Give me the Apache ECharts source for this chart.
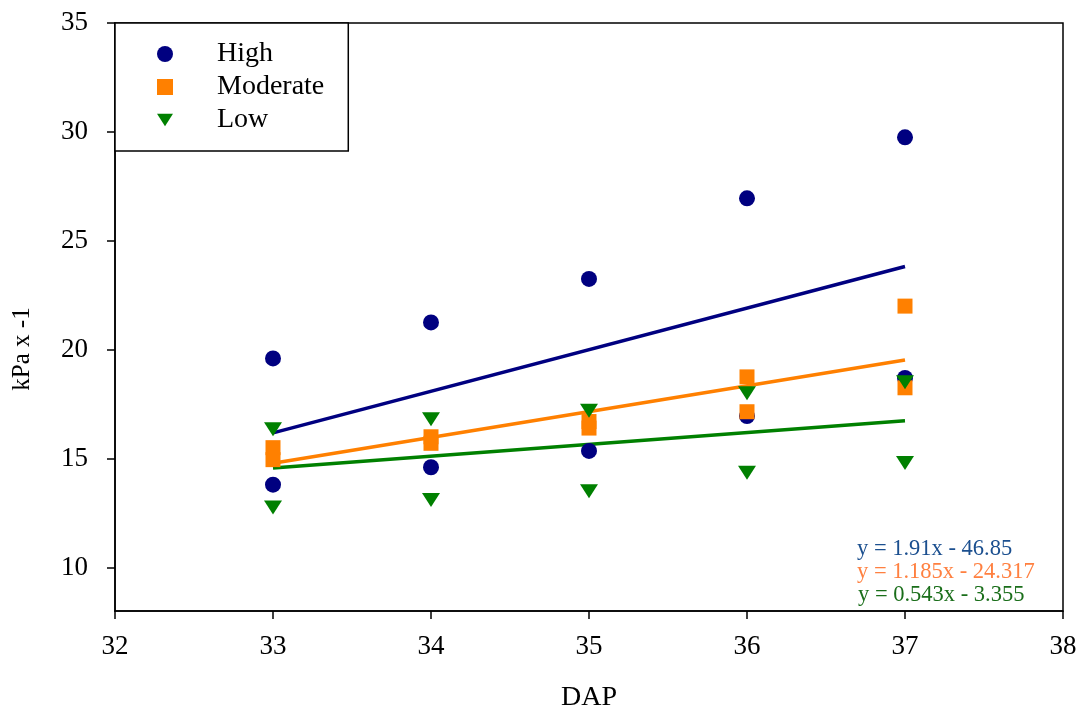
<!DOCTYPE html>
<html>
<head>
<meta charset="utf-8">
<script src="https://cdn.jsdelivr.net/npm/echarts@6/dist/echarts.min.js"></script>
<style>html,body{margin:0;padding:0;background:#fff}#c{width:1087px;height:715px}</style>
</head>
<body>
<div id="c"></div>
<script>
// ---- data ----
const xTicks = [32, 33, 34, 35, 36, 37, 38];
const yTicks = [10, 15, 20, 25, 30, 35];
const highPts = [[33, 19.6], [33, 13.8], [34, 21.25], [34, 14.6], [35, 23.25], [35, 15.35], [36, 26.95], [36, 16.95], [37, 29.75], [37, 18.7]];
const moderatePts = [[33, 15.5], [33, 14.95], [34, 16.0], [34, 15.7], [35, 16.7], [35, 16.4], [36, 18.75], [36, 17.15], [37, 22.0], [37, 18.25]];
const lowPts = [[33, 16.35], [33, 12.75], [34, 16.8], [34, 13.1], [35, 17.2], [35, 13.5], [36, 18.0], [36, 14.35], [37, 18.5], [37, 14.8]];
// regression coefficients shown on chart: [slope, intercept]
const highFit = [1.91, -46.85];
const moderateFit = [1.185, -24.317];
const lowFit = [0.543, -3.355];
const fitRange = [33, 37];
const equations = ['y = 1.91x - 46.85', 'y = 1.185x - 24.317', 'y = 0.543x - 3.355'];

const FONT = '"Liberation Serif", "Times New Roman", serif';
const fitLine = c => fitRange.map(x => [x, +(c[0] * x + c[1]).toFixed(3)]);
const triPath = 'path://M0,0L18,0L9,14Z';

const chart = echarts.init(document.getElementById('c'), null, {renderer: 'canvas'});
chart.setOption({
  backgroundColor: '#fff',
  animation: false,
  grid: {left: 115, right: 24, top: 23, bottom: 104, outerBoundsMode: 'none', containLabel: false,
         show: true, borderColor: '#000', borderWidth: 1.5, backgroundColor: 'transparent'},
  legend: {
    data: ['High', 'Moderate', 'Low'],
    orient: 'vertical', left: 115, top: 23,
    padding: [17, 24, 17, 42],
    itemWidth: 16, itemHeight: 16, itemGap: 5,
    borderColor: '#000', borderWidth: 1.5, backgroundColor: '#fff',
    textStyle: {fontFamily: FONT, fontSize: 28, color: '#000', padding: [0, 0, 0, 39]},
    selectedMode: false
  },
  xAxis: {
    type: 'value', min: 32, max: 38, interval: 1,
    name: 'DAP', nameLocation: 'middle', nameGap: 73,
    nameTextStyle: {fontFamily: FONT, fontSize: 28, color: '#000'},
    axisLine: {show: true, lineStyle: {color: '#000', width: 1.5}},
    axisTick: {show: true, length: 8, lineStyle: {color: '#000', width: 1.5}},
    axisLabel: {fontFamily: FONT, fontSize: 27, color: '#000', margin: 22},
    splitLine: {show: false}
  },
  yAxis: {
    type: 'value', min: 8, max: 35,
    axisLine: {show: true, onZero: false, lineStyle: {color: '#000', width: 1.5}},
    axisTick: {show: true, length: 8, customValues: yTicks, lineStyle: {color: '#000', width: 1.5}},
    axisLabel: {fontFamily: FONT, fontSize: 27, color: '#000', margin: 27, customValues: yTicks},
    splitLine: {show: false}
  },
  graphic: [
    {type: 'text', x: 22, y: 349, rotation: Math.PI / 2,
     style: {text: 'kPa x -1', font: '25px ' + FONT, fill: '#000', align: 'center', verticalAlign: 'middle'}},
    {type: 'text', left: 857, top: 538, style: {text: equations[0], font: '22.5px ' + FONT, fill: '#1b4f8f'}},
    {type: 'text', left: 857, top: 561, style: {text: equations[1], font: '22.5px ' + FONT, fill: '#ff8040'}},
    {type: 'text', left: 858, top: 584, style: {text: equations[2], font: '22.5px ' + FONT, fill: '#1a6e1a'}}
  ],
  series: [
    {name: 'High fit', type: 'line', data: fitLine(highFit), showSymbol: false, lineStyle: {color: '#000080', width: 3.5}, z: 2, silent: true},
    {name: 'Moderate fit', type: 'line', data: fitLine(moderateFit), showSymbol: false, lineStyle: {color: '#ff8000', width: 3.5}, z: 2, silent: true},
    {name: 'Low fit', type: 'line', data: fitLine(lowFit), showSymbol: false, lineStyle: {color: '#008000', width: 3.5}, z: 2, silent: true},
    {name: 'High', type: 'scatter', data: highPts, symbol: 'circle', symbolSize: 16, itemStyle: {color: '#000080', opacity: 1}, z: 3},
    {name: 'Moderate', type: 'scatter', data: moderatePts, symbol: 'rect', symbolSize: 15, itemStyle: {color: '#ff8000', opacity: 1}, z: 4},
    {name: 'Low', type: 'scatter', data: lowPts, symbol: triPath, symbolSize: [18, 14], itemStyle: {color: '#008000', opacity: 1}, z: 5}
  ]
});
</script>
</body>
</html>
